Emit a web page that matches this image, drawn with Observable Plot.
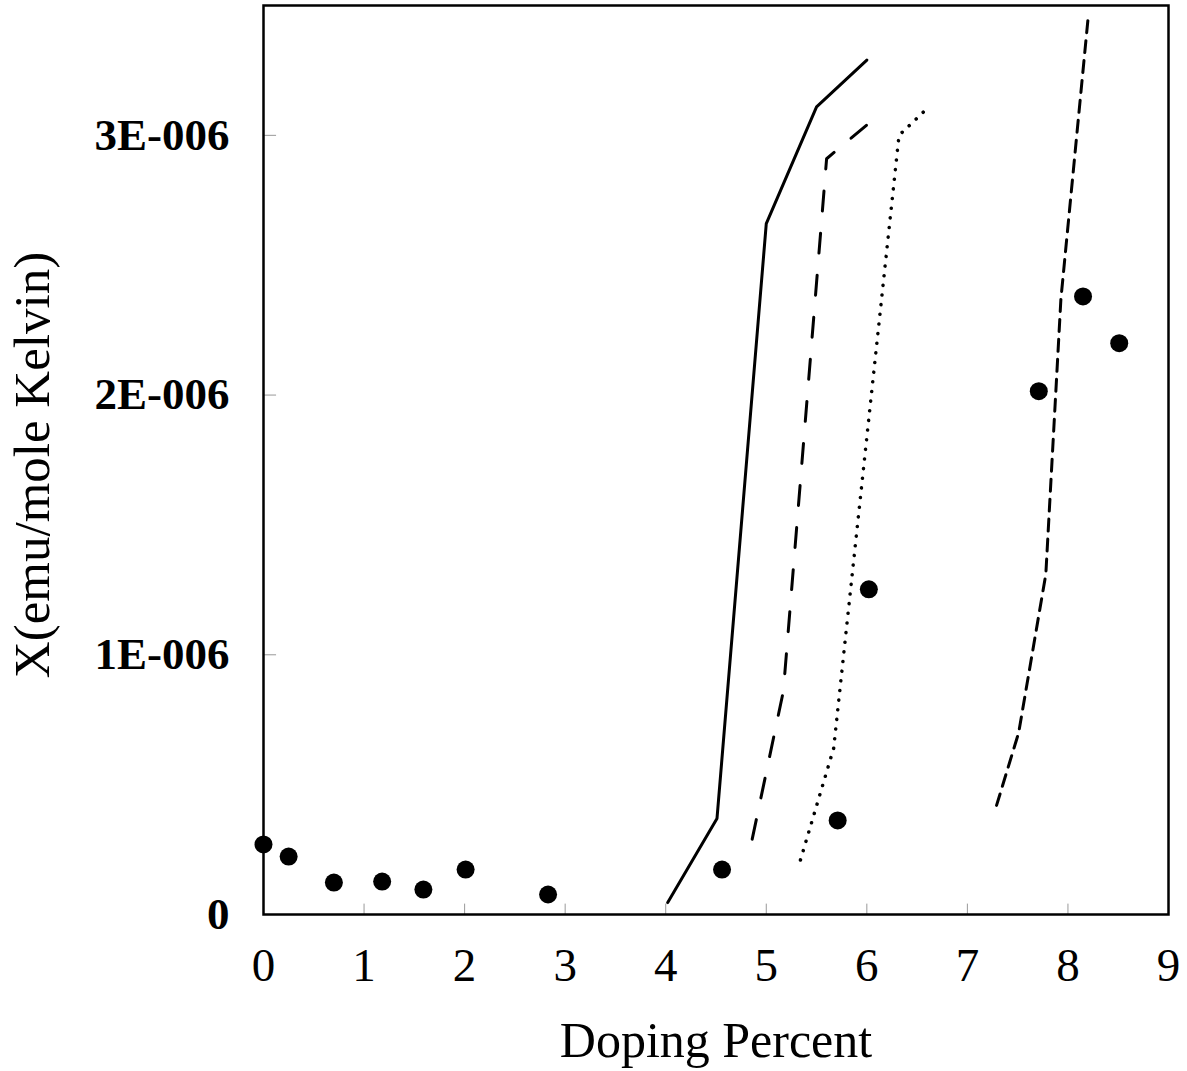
<!DOCTYPE html>
<html>
<head>
<meta charset="utf-8">
<script src="https://cdn.jsdelivr.net/npm/d3@7"></script>
<script src="https://cdn.jsdelivr.net/npm/@observablehq/plot@0.6"></script>
<style>
  html, body { margin: 0; padding: 0; background: #fff; }
  #chart svg { display: block; }
</style>
</head>
<body>
<div id="chart"></div>
<script>
// Measured susceptibility versus doping level
const measuredDoping = [0.0, 0.25, 0.70, 1.18, 1.59, 2.01, 2.83, 4.56, 5.71, 6.02, 7.71, 8.15, 8.51];
const measuredChi    = [2.70e-7, 2.23e-7, 1.23e-7, 1.27e-7, 0.96e-7, 1.73e-7, 0.77e-7, 1.73e-7, 3.62e-7, 1.252e-6, 2.015e-6, 2.38e-6, 2.20e-6];

// Model curves
const solidDoping = [4.02, 4.51, 5.00, 5.50, 6.00];
const solidChi    = [0.046e-6, 0.37e-6, 2.66e-6, 3.11e-6, 3.29e-6];

const longDashDoping = [4.86, 5.17, 5.60, 6.00];
const longDashChi    = [0.29e-6, 0.86e-6, 2.91e-6, 3.04e-6];

const dottedDoping = [5.34, 5.67, 6.32, 6.59];
const dottedChi    = [0.21e-6, 0.64e-6, 3.00e-6, 3.10e-6];

const shortDashDoping = [7.29, 7.51, 7.78, 7.93, 8.20];
const shortDashChi    = [0.42e-6, 0.70e-6, 1.31e-6, 2.37e-6, 3.45e-6];

// Axis ticks
const xTicks = [0, 1, 2, 3, 4, 5, 6, 7, 8, 9];
const yTicks = [0, 1e-6, 2e-6, 3e-6];
const yTickLabels = ["0", "1E-006", "2E-006", "3E-006"];

const toRows = (xs, ys) => xs.map((x, i) => ({x, y: ys[i]}));

const measured  = toRows(measuredDoping, measuredChi);
const solid     = toRows(solidDoping, solidChi);
const longDash  = toRows(longDashDoping, longDashChi);
const dotted    = toRows(dottedDoping, dottedChi);
const shortDash = toRows(shortDashDoping, shortDashChi);

const serif = "'Liberation Serif', 'Times New Roman', serif";

const chart = Plot.plot({
  width: 1187,
  height: 1071,
  marginLeft: 263,
  marginRight: 19,
  marginTop: 5,
  marginBottom: 157,
  style: {fontFamily: serif, background: "#fff", color: "#000"},
  x: {domain: [0, 9]},
  y: {domain: [0, 3.5e-6]},
  marks: [
    // faint inward tick marks
    Plot.ruleX(xTicks.slice(1, -1), {y1: 0, y2: 0.04e-6, stroke: "#999", strokeWidth: 1}),
    Plot.ruleY(yTicks.slice(1), {x1: 0, x2: 0.13, stroke: "#999", strokeWidth: 1}),
    Plot.axisX({
      ticks: xTicks, tickSize: 0, tickPadding: 33,
      tickFormat: d => String(d), label: null,
      fontSize: 47, fontFamily: serif
    }),
    Plot.axisY({
      ticks: yTicks, tickSize: 0, tickPadding: 34,
      tickFormat: d => yTickLabels[yTicks.indexOf(d)], label: null,
      fontSize: 45, fontWeight: "bold", fontFamily: serif
    }),
    Plot.text(["Doping Percent"], {
      frameAnchor: "bottom", dy: 126, lineAnchor: "middle",
      fontSize: 50, fontFamily: serif
    }),
    Plot.text(["X(emu/mole Kelvin)"], {
      frameAnchor: "left", dx: -231, dy: 5, rotate: -90,
      textAnchor: "middle", lineAnchor: "middle",
      fontSize: 51, fontFamily: serif
    }),
    Plot.line(solid, {x: "x", y: "y", stroke: "#000", strokeWidth: 3}),
    Plot.line(longDash, {x: "x", y: "y", stroke: "#000", strokeWidth: 3, strokeDasharray: "20,22.2"}),
    Plot.line(dotted, {x: "x", y: "y", stroke: "#000", strokeWidth: 3.5, strokeLinecap: "round", strokeDasharray: "0.1,9.6"}),
    Plot.line(shortDash, {x: "x", y: "y", stroke: "#000", strokeWidth: 3, strokeDasharray: "12,8"}),
    Plot.dot(measured, {x: "x", y: "y", r: 9, fill: "#000", stroke: "none"}),
    Plot.frame({stroke: "#000", strokeWidth: 2.5})
  ]
});

document.getElementById("chart").appendChild(chart);
</script>
</body>
</html>
